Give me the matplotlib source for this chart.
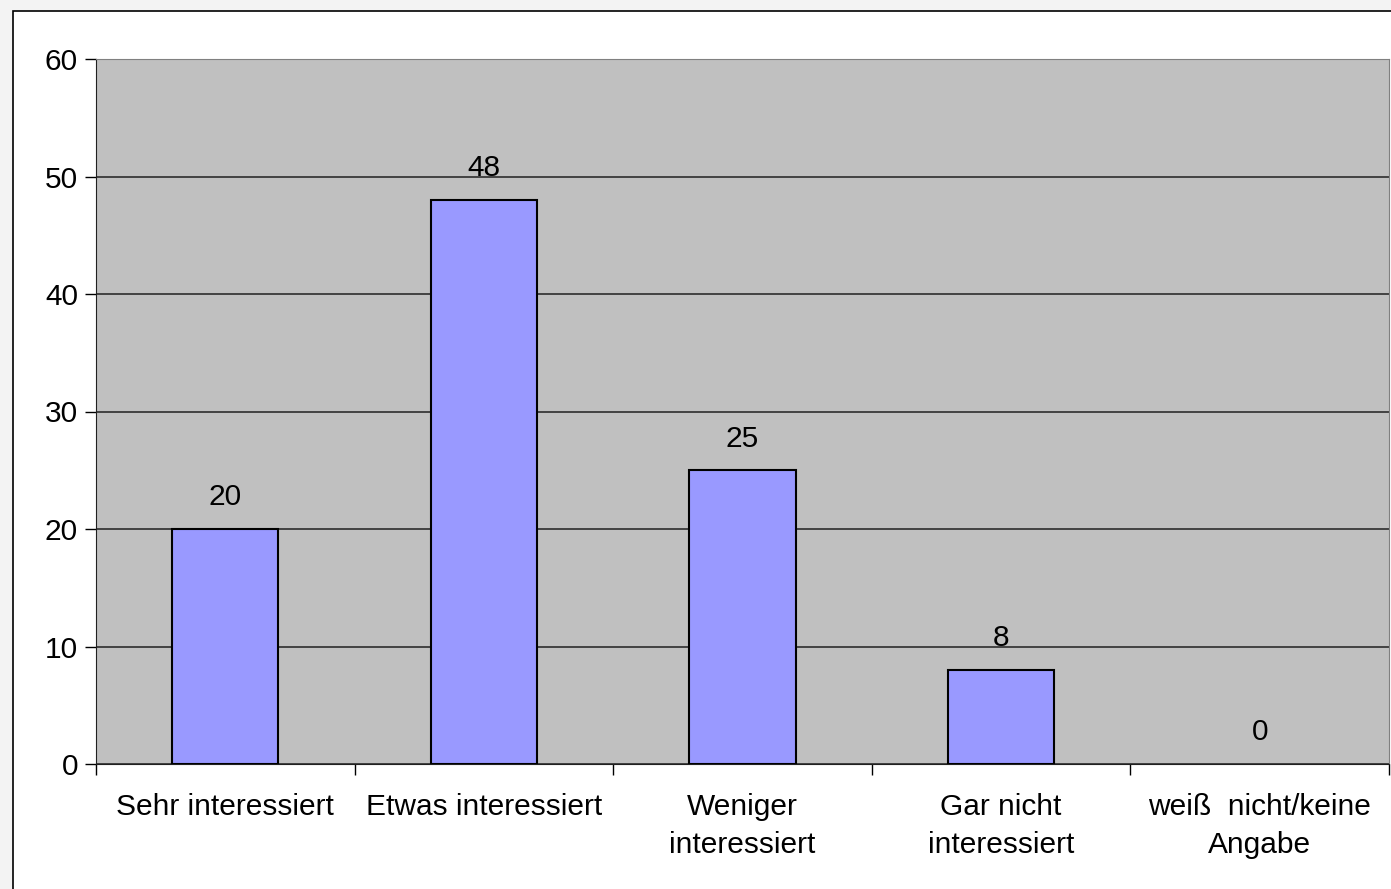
import matplotlib
matplotlib.use("Agg")
import matplotlib.pyplot as plt
from matplotlib.patches import Rectangle
import numpy as np

categories = ["Sehr interessiert", "Etwas interessiert", "Weniger\ninteressiert",
              "Gar nicht\ninteressiert", "weiß  nicht/keine\nAngabe"]
values = [20, 48, 25, 8, 0]

plt.rcParams['font.family'] = ['Liberation Sans', 'DejaVu Sans']

W, H = 1391, 889
fig = plt.figure(figsize=(W / 100, H / 100), dpi=100, facecolor='#f3f3f3')
# white chart frame
fig.patches.append(Rectangle((13 / W, -0.1), 1.2, (H - 11) / H + 0.1, transform=fig.transFigure,
                             facecolor='white', edgecolor='black', linewidth=1.2, zorder=-10))

ax = fig.add_axes([96 / W, (H - 764) / H, (1389 - 96) / W, (764 - 59) / H])
ax.set_facecolor('#c0c0c0')

x = np.arange(len(categories))
bars = ax.bar(x, values, width=0.41, color='#9999ff', edgecolor='black', linewidth=1.5, zorder=3)
for b, v in zip(bars, values):
    if v == 0:
        b.set_linewidth(0)
for xi, v in zip(x, values):
    ax.text(xi, v + 2.7, str(v), ha='center', va='center', fontsize=21.5, zorder=4)

ax.set_xlim(-0.5, len(categories) - 0.5)
ax.set_ylim(0, 60)
ax.set_yticks(range(0, 61, 10))
ax.yaxis.grid(True, color='#202020', linewidth=1.1, zorder=1)
ax.tick_params(axis='y', length=8, width=1, labelsize=21.5, pad=5)

ax.set_xticks(np.arange(-0.5, len(categories), 1.0))
ax.set_xticklabels([])
ax.set_xticks(x, minor=True)
ax.set_xticklabels(categories, minor=True, fontsize=21.5, linespacing=1.45)
ax.tick_params(axis='x', which='major', length=8, width=1)
ax.tick_params(axis='x', which='minor', length=0, pad=21)

for s in ['top', 'right']:
    ax.spines[s].set_color('#808080')
ax.spines['left'].set_color('#202020')
ax.spines['bottom'].set_color('#202020')

fig.savefig('out.png', dpi=100, facecolor=fig.get_facecolor())
